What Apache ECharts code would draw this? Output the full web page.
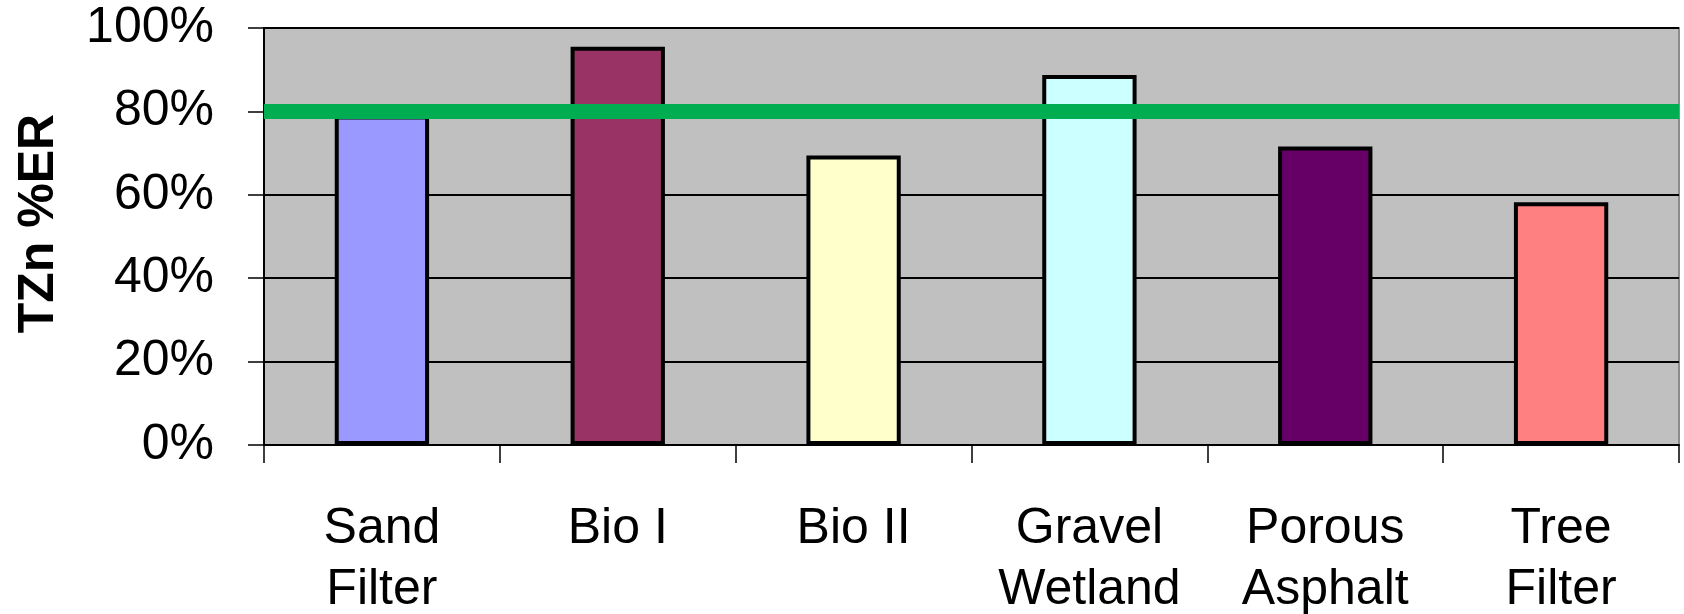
<!DOCTYPE html>
<html>
<head>
<meta charset="utf-8">
<script src="https://cdn.jsdelivr.net/npm/echarts@6/dist/echarts.min.js"></script>
<style>
html,body{margin:0;padding:0;background:#fff;}
#chart{width:1684px;height:614px;}
</style>
</head>
<body>
<div id="chart"></div>
<script>
const categories = ['Sand\nFilter', 'Bio I', 'Bio II', 'Gravel\nWetland', 'Porous\nAsphalt', 'Tree\nFilter'];
const values = [0.79, 0.955, 0.694, 0.887, 0.716, 0.582];
const barColors = ['#9999FF', '#993366', '#FFFFCC', '#CCFFFF', '#660066', '#FF8080'];
const targetValue = 0.8;
const yTicks = [0, 0.2, 0.4, 0.6, 0.8, 1.0];
const yTitle = 'TZn %ER';

const font = '"Liberation Sans", Arial, sans-serif';
const chart = echarts.init(document.getElementById('chart'), null, {renderer: 'canvas'});
chart.setOption({
  animation: false,
  backgroundColor: '#ffffff',
  grid: {
    left: 264, right: 5, top: 28, bottom: 169,
    outerBoundsMode: 'none',
    containLabel: false,
    show: true, backgroundColor: '#C0C0C0', borderColor: '#8c8c8c', borderWidth: 2
  },
  xAxis: {
    type: 'category',
    data: categories,
    axisLine: {show: true, lineStyle: {color: '#000', width: 2}},
    axisTick: {show: true, length: 18, lineStyle: {color: '#000', width: 1.5}},
    axisLabel: {
      color: '#000', fontSize: 50, fontFamily: font, lineHeight: 61, margin: 54,
      interval: 0
    }
  },
  yAxis: {
    type: 'value',
    min: yTicks[0], max: yTicks[yTicks.length - 1], interval: 0.2,
    name: yTitle,
    nameLocation: 'middle',
    nameGap: 200,
    nameRotate: 90,
    nameTextStyle: {color: '#000', fontSize: 50, fontWeight: 'bold', fontFamily: font, padding: [0, 0, 0, 26]},
    axisLine: {show: true, lineStyle: {color: '#000', width: 2}},
    axisTick: {show: true, length: 16, inside: false, lineStyle: {color: '#000', width: 1.5}},
    splitLine: {show: true, lineStyle: {color: '#000', width: 2}},
    axisLabel: {
      color: '#000', fontSize: 50, fontFamily: font, margin: 50,
      formatter: v => Math.round(v * 100) + '%'
    }
  },
  series: [{
    type: 'bar',
    data: values.map((v, i) => ({value: v, itemStyle: {color: barColors[i]}})),
    barWidth: '40%',
    itemStyle: {borderColor: '#000', borderWidth: 4},
    markLine: {
      silent: true,
      symbol: ['none', 'none'],
      label: {show: false},
      lineStyle: {color: '#00AD50', width: 15, type: 'solid'},
      data: [{yAxis: targetValue}]
    }
  }]
});
</script>
</body>
</html>
